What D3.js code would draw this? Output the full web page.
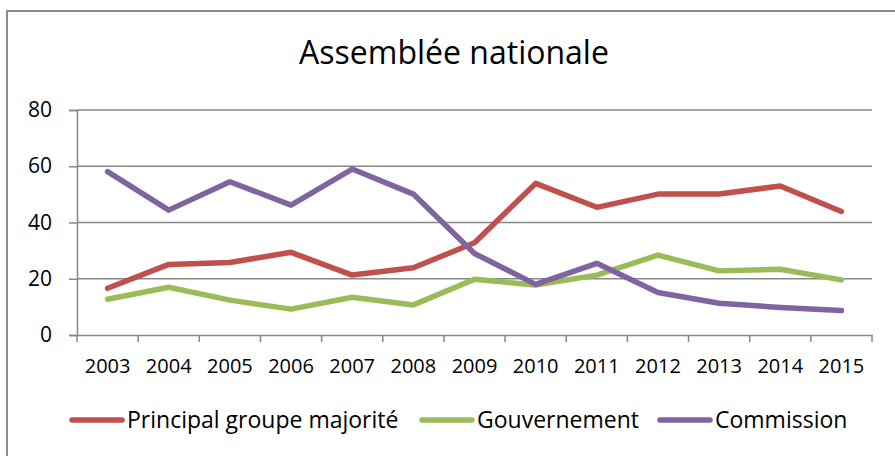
<!DOCTYPE html>
<html>
<head>
<meta charset="utf-8">
<script src="https://cdn.jsdelivr.net/npm/d3@7"></script>
<style>
  body { margin: 0; background: #fff; }
  svg { display: block; font-family: "Open Sans", "Noto Sans", sans-serif; }
</style>
</head>
<body>
<script>
// values
var years = ["2003","2004","2005","2006","2007","2008","2009","2010","2011","2012","2013","2014","2015"];
var groupe = [16.6, 25.1, 25.8, 29.4, 21.3, 23.9, 32.8, 53.9, 45.4, 50.1, 50.1, 53.0, 43.9];
var gouvernement = [12.7, 17.0, 12.4, 9.2, 13.4, 10.7, 19.8, 17.8, 21.3, 28.4, 22.8, 23.4, 19.6];
var commission = [58.1, 44.4, 54.5, 46.2, 59.0, 50.1, 29.0, 18.0, 25.5, 15.1, 11.3, 9.8, 8.7];
var yTicks = [0, 20, 40, 60, 80];

var series = [
  { name: "Principal groupe majorité", values: groupe, color: "#C0504D" },
  { name: "Gouvernement", values: gouvernement, color: "#9BBB59" },
  { name: "Commission", values: commission, color: "#8064A2" }
];

var width = 895, height = 456;
var svg = d3.select("body").append("svg").attr("width", width).attr("height", height);

// chart frame (runs off the right/bottom edge like in the original)
svg.append("rect")
  .attr("x", 7).attr("y", 11)
  .attr("width", 900).attr("height", 460)
  .attr("fill", "none").attr("stroke", "#8c8c8c").attr("stroke-width", 2);

svg.append("text")
  .attr("x", 454).attr("y", 64)
  .attr("text-anchor", "middle")
  .attr("font-size", 32)
  .attr("fill", "#000")
  .text("Assemblée nationale");

var x = d3.scaleBand().domain(years).range([77, 872]);
var y = d3.scaleLinear().domain([0, 80]).range([335, 110]);

// gridlines
svg.append("g").selectAll("line")
  .data(yTicks.slice(1))
  .enter().append("line")
    .attr("x1", 77).attr("x2", 872)
    .attr("y1", function(d) { return y(d); })
    .attr("y2", function(d) { return y(d); })
    .attr("stroke", "#878787").attr("stroke-width", 1.5);

var yAxis = svg.append("g")
  .attr("transform", "translate(77,0)")
  .call(d3.axisLeft(y).tickValues(yTicks).tickSize(8).tickPadding(17));
var xAxis = svg.append("g")
  .attr("transform", "translate(0,335)")
  .call(d3.axisBottom(x).tickSize(0).tickPadding(24));

// category boundary ticks
var edges = years.map(function(d) { return x(d); }).concat([872]);
svg.append("g").selectAll("line")
  .data(edges)
  .enter().append("line")
    .attr("x1", function(d) { return d; }).attr("x2", function(d) { return d; })
    .attr("y1", 335).attr("y2", 342)
    .attr("stroke", "#878787").attr("stroke-width", 1.5);

[yAxis, xAxis].forEach(function(a) {
  a.select(".domain").attr("stroke", "#878787").attr("stroke-width", 1.5);
  a.selectAll(".tick line").attr("stroke", "#878787").attr("stroke-width", 1.5);
  a.selectAll("text").attr("fill", "#000")
    .style("font-family", "\"Open Sans\", sans-serif");
});
yAxis.selectAll("text").attr("font-size", 21);
xAxis.selectAll("text").attr("font-size", 20);

var line = d3.line()
  .x(function(d, i) { return x(years[i]) + x.bandwidth() / 2; })
  .y(function(d) { return y(d); });

svg.append("g").selectAll("path")
  .data(series)
  .enter().append("path")
    .attr("d", function(s) { return line(s.values); })
    .attr("fill", "none")
    .attr("stroke", function(s) { return s.color; })
    .attr("stroke-width", 5.5)
    .attr("stroke-linejoin", "round")
    .attr("stroke-linecap", "round");

// legend
var legendX = [70, 420, 658];
var legend = svg.append("g").selectAll("g")
  .data(series)
  .enter().append("g")
    .attr("transform", function(d, i) { return "translate(" + legendX[i] + ",420)"; });
legend.append("line")
  .attr("x1", 2).attr("x2", 52).attr("y1", 0).attr("y2", 0)
  .attr("stroke", function(d) { return d.color; })
  .attr("stroke-width", 5.5).attr("stroke-linecap", "round");
legend.append("text")
  .attr("x", 57).attr("y", 8)
  .attr("font-size", 23)
  .attr("fill", "#000")
  .text(function(d) { return d.name; });
</script>
</body>
</html>
